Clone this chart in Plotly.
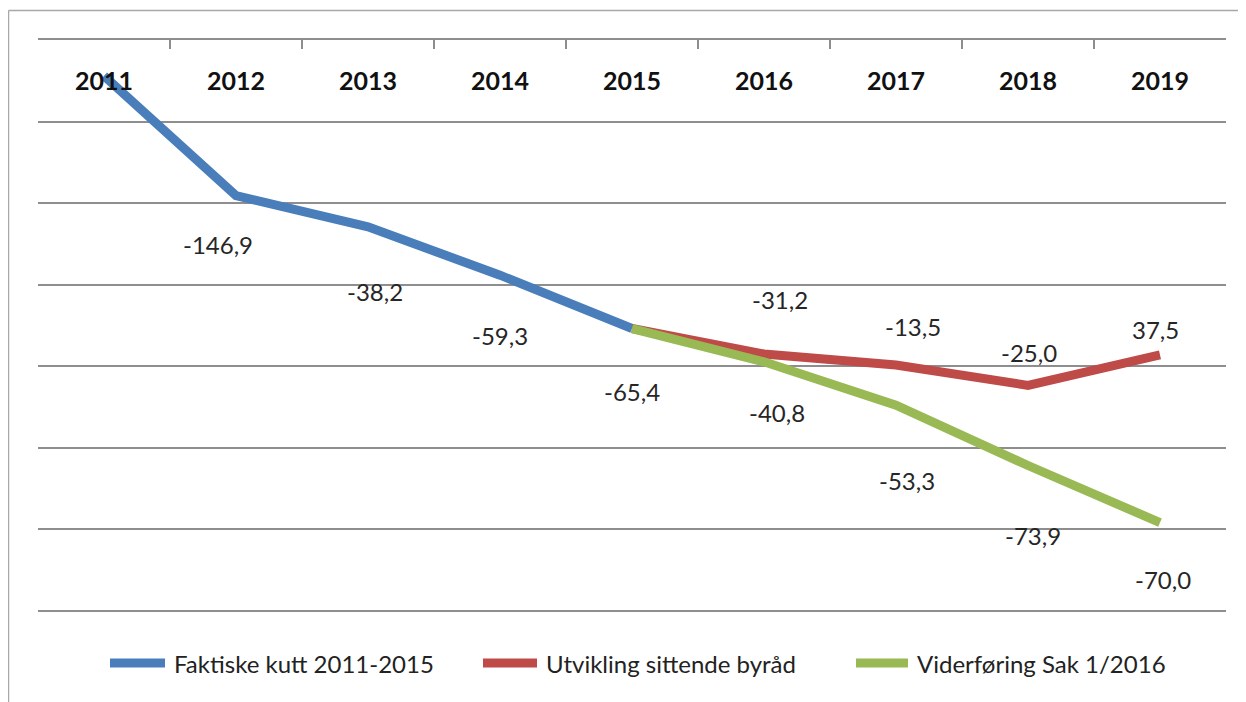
import plotly.graph_objects as go

# ---- data ----
years = [2011, 2012, 2013, 2014, 2015, 2016, 2017, 2018, 2019]

blue_years = [2011, 2012, 2013, 2014, 2015]
blue_values = [-44.0, -190.9, -229.1, -288.4, -353.8]
blue_labels = ["", "-146,9", "-38,2", "-59,3", "-65,4"]

red_years = [2015, 2016, 2017, 2018, 2019]
red_values = [-353.8, -385.0, -398.5, -423.5, -386.0]
red_labels = ["", "-31,2", "-13,5", "-25,0", "37,5"]

green_years = [2015, 2016, 2017, 2018, 2019]
green_values = [-353.8, -394.6, -447.9, -521.8, -591.8]
green_labels = ["", "-40,8", "-53,3", "-73,9", "-70,0"]

series_names = ["Faktiske kutt 2011-2015", "Utvikling sittende byråd", "Viderføring Sak 1/2016"]

# ---- styles (label offsets in pixels) ----
colors = ["#4A7EBB", "#BE4B48", "#98B954"]
blue_off = [(0, 0), (-18, -49), (7, -65), (0, -60), (0, -63)]
red_off = [(0, 0), (16, 54), (17, 38), (1, 33), (-5, 25)]
green_off = [(0, 0), (13, -51), (11, -75), (5, -70), (3, -57)]

FONT = "Lato, 'Open Sans', sans-serif"
GRID = "#8e8e8e"

# page-pixel helpers (page has an 8px body margin around the figure)
ml, mt, pw, ph = 38.0, 40.0, 1188.0, 579.0
def px_x(p):
    return (p - ml) / pw
def px_y(p):
    return (mt + ph - p) / ph

fig = go.Figure()
for name, xs, ys, col in [
    (series_names[0], blue_years, blue_values, colors[0]),
    (series_names[1], red_years, red_values, colors[1]),
    (series_names[2], green_years, green_values, colors[2]),
]:
    fig.add_trace(go.Scatter(x=xs, y=ys, mode="lines", name=name, showlegend=False,
                             line=dict(color=col, width=9)))

annotations = []
for xs, ys, labs, offs in [
    (blue_years, blue_values, blue_labels, blue_off),
    (red_years, red_values, red_labels, red_off),
    (green_years, green_values, green_labels, green_off),
]:
    for x, y, t, (dx, dy) in zip(xs, ys, labs, offs):
        if not t:
            continue
        annotations.append(dict(x=x, y=y, xref="x", yref="y", text=t, showarrow=False,
                                xshift=dx, yshift=dy,
                                font=dict(family=FONT, size=24, color="#262626")))

# year labels under the top axis
for yr in years:
    annotations.append(dict(x=yr, y=1, xref="x", yref="paper", text="<b>" + str(yr) + "</b>",
                            showarrow=False, yanchor="middle", yshift=-40,
                            font=dict(family=FONT, size=25, color="#111111")))

# custom legend (long thick line samples as in the original)
legend_line_px = [(106, 169), (479, 541), (852, 912)]
legend_y = 663
shapes = []
for (a, b), col, name in zip(legend_line_px, colors, series_names):
    shapes.append(dict(type="line", xref="paper", yref="paper", x0=px_x(a + 4), x1=px_x(b - 4),
                       y0=px_y(legend_y), y1=px_y(legend_y),
                       line=dict(color=col, width=9)))
    annotations.append(dict(x=px_x(b + 3), y=px_y(legend_y), xref="paper", yref="paper",
                            text=name, showarrow=False, xanchor="left", yanchor="middle",
                            font=dict(family=FONT, size=24, color="#222222")))

# outer frame (left and top edges)
shapes += [
    dict(type="line", xref="paper", yref="paper", x0=px_x(8.5), x1=px_x(8.5),
         y0=px_y(10.5), y1=px_y(710), line=dict(color="#a8a8a8", width=1.5)),
    dict(type="line", xref="paper", yref="paper", x0=px_x(8.5), x1=px_x(1260),
         y0=px_y(10.5), y1=px_y(10.5), line=dict(color="#a8a8a8", width=1.5)),
]

fig.update_layout(
    width=1238, height=694,
    margin=dict(l=30, r=20, t=32, b=83),
    paper_bgcolor="white", plot_bgcolor="white",
    font=dict(family=FONT, color="#222222"),
    showlegend=False,
    annotations=annotations,
    shapes=shapes,
    xaxis=dict(range=[2010.5, 2019.5], side="top", showline=True, linecolor=GRID, linewidth=2,
               ticks="inside", tick0=2010.5, dtick=1, ticklen=9, tickwidth=2, tickcolor=GRID,
               showticklabels=False, showgrid=False, zeroline=False, fixedrange=True),
    yaxis=dict(range=[-710, 0], tick0=0, dtick=100, showgrid=True, gridcolor=GRID, gridwidth=2,
               showticklabels=False, zeroline=False, showline=False, ticks="", fixedrange=True),
)

fig.write_html("out.html")
